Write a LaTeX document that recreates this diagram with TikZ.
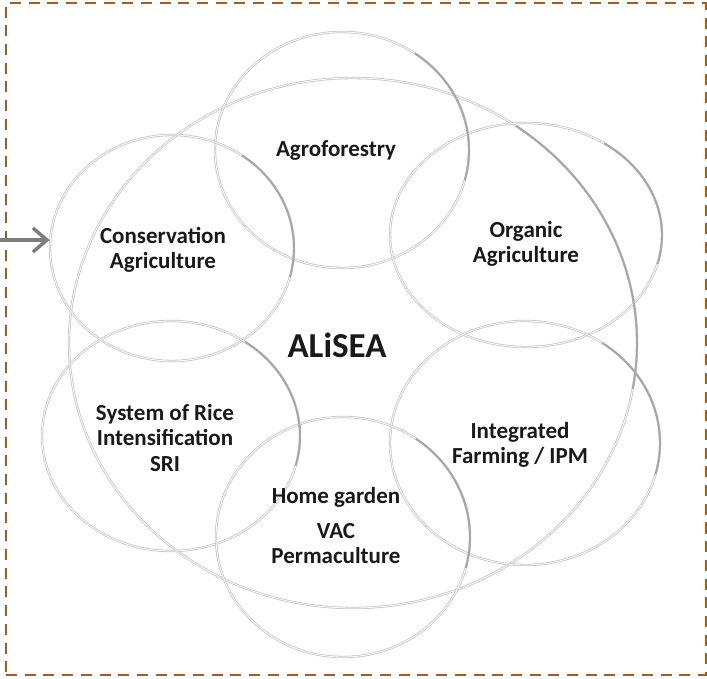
\documentclass[tikz,border=0pt]{standalone}
\usepackage{fontspec}
\setmainfont{Carlito}
\usetikzlibrary{shapes.geometric, arrows.meta}

\definecolor{framebrown}{RGB}{168,92,32}
\definecolor{arrowgray}{RGB}{125,125,125}

\tikzset{
    ring/.style={ellipse, draw=gray!45, double=white, double distance=0.8pt, line width=0.8pt, inner sep=0pt},
    rim/.style={draw=gray!70, line width=1.8pt},
    lbl/.style={align=center, font=\bfseries\fontsize{23}{25.5}\selectfont, text=black!90}
}

\begin{document}
\begin{tikzpicture}[x=1pt, y=1pt]
    \useasboundingbox (0,0) rectangle (707,678);

    % outer frame
    \node (frame) at (356,339) [draw=framebrown, line width=2.8pt, dash pattern=on 11pt off 7.7pt, minimum width=700pt, minimum height=672pt, inner sep=0pt]{};

    % rings
    \node (alisea) at (353,335) [ring, minimum width=568pt, minimum height=530pt]{};
    \node (agro) at (342,528) [ring, minimum width=254pt, minimum height=236pt]{};
    \node (organic) at (526,443) [ring, minimum width=272pt, minimum height=224pt]{};
    \node (conserv) at (172,430) [ring, minimum width=244pt, minimum height=226pt]{};
    \node (sri) at (171,242) [ring, minimum width=258pt, minimum height=230pt]{};
    \node (ipm) at (525,235) [ring, minimum width=270pt, minimum height=244pt]{};
    \node (home) at (343,141) [ring, minimum width=254pt, minimum height=240pt]{};

    % darker rims on the right
    \draw [rim] ([shift={(-10:284 and 265)}]alisea.center) arc[start angle=-10, end angle=55, x radius=284, y radius=265];
    \draw [rim] ([shift={(-15:127 and 118)}]agro.center) arc[start angle=-15, end angle=55, x radius=127, y radius=118];
    \draw [rim] ([shift={(-15:136 and 112)}]organic.center) arc[start angle=-15, end angle=55, x radius=136, y radius=112];
    \draw [rim] ([shift={(-15:122 and 113)}]conserv.center) arc[start angle=-15, end angle=55, x radius=122, y radius=113];
    \draw [rim] ([shift={(-15:129 and 115)}]sri.center) arc[start angle=-15, end angle=55, x radius=129, y radius=115];
    \draw [rim] ([shift={(-15:135 and 122)}]ipm.center) arc[start angle=-15, end angle=55, x radius=135, y radius=122];
    \draw [rim] ([shift={(-15:127 and 120)}]home.center) arc[start angle=-15, end angle=55, x radius=127, y radius=120];

    % labels
    \node (l0) at (337,333) [align=center, font=\bfseries\fontsize{35}{40}\selectfont, text=black!90] {ALiSEA};
    \node (l1) at (336,528) [lbl] {Agroforestry};
    \node (l2) at (163,428) [lbl] {Conservation\\Agriculture};
    \node (l3) at (526,434) [lbl] {Organic\\Agriculture};
    \node (l4) at (165,240) [lbl] {System of Rice\\Intensification\\SRI};
    \node (l5) at (520,233) [lbl] {Integrated\\Farming / IPM};
    \node (l6) at (336,152) [lbl] {Home garden\\[9pt]VAC\\Permaculture};

    % entry arrow
    \coordinate (in) at (0,438);
    \draw [-{Straight Barb[length=14pt, width=24pt, line width=3.5pt]}, line width=3.5pt, arrowgray] (in) -- (in -| conserv.west);

\end{tikzpicture}
\end{document}
